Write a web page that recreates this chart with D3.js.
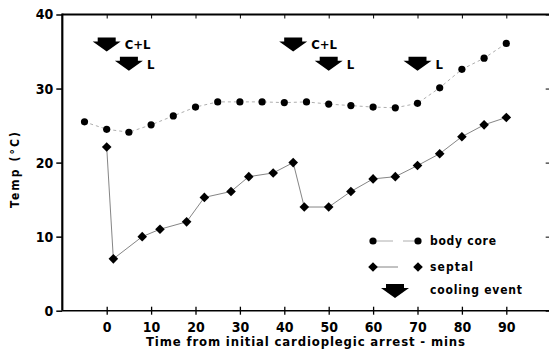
<!DOCTYPE html>
<html>
<head>
<meta charset="utf-8">
<script src="https://cdn.jsdelivr.net/npm/d3@7"></script>
<style>
	body { margin: 0; background: white; }
	svg { display: block; }
	text { font-family: 'DejaVu Sans Condensed', 'Liberation Sans Narrow', sans-serif; font-weight: bold; fill: black; }
</style>
</head>
<body>
<div id="app"></div>
<script>
// body core temperatures
const coreTime = [-5, 0, 5, 10, 15, 20, 25, 30, 35, 40, 45, 50, 55, 60, 65, 70, 75, 80, 85, 90]
const coreTemp = [25.5, 24.5, 24.1, 25.1, 26.3, 27.5, 28.2, 28.2, 28.2, 28.1, 28.2, 27.9, 27.7, 27.5, 27.4, 28.0, 30.1, 32.6, 34.1, 36.1]

// septal temperatures
const septalTime = [0, 1.5, 8, 12, 18, 22, 28, 32, 37.5, 42, 44.5, 50, 55, 60, 65, 70, 75, 80, 85, 90]
const septalTemp = [22.1, 7.0, 10.0, 11.0, 12.0, 15.3, 16.1, 18.1, 18.6, 20.0, 14.0, 14.0, 16.1, 17.8, 18.1, 19.6, 21.2, 23.5, 25.1, 26.1]

// cooling events (arrow top given in temp units)
const eventTime = [0, 5, 42, 50, 70]
const eventTemp = [36.9, 34.3, 36.9, 34.3, 34.3]
const eventLabel = ['C+L', 'L', 'C+L', 'L', 'L']

const xTicks = [0, 10, 20, 30, 40, 50, 60, 70, 80, 90]
const yTicks = [0, 10, 20, 30, 40]

const width = 549
const height = 353

const svg = d3.select('#app').append('svg').attr('width', width).attr('height', height)

let x = d3.scaleLinear().domain([-10, 100]).range([62.3, 550.7])
let y = d3.scaleLinear().domain([0, 40]).range([310.7, 14.5])

// frame lines
svg.append('line').attr('x1', x(-10)).attr('x2', x(100)).attr('y1', y(40)).attr('y2', y(40))
	.style('stroke', 'black').style('stroke-width', 2)
svg.append('line').attr('x1', x(-10)).attr('x2', x(-10)).attr('y1', y(40) - 1).attr('y2', y(0))
	.style('stroke', 'black').style('stroke-width', 2.2)
svg.append('line').attr('x1', x(-10)).attr('x2', x(100)).attr('y1', y(0)).attr('y2', y(0))
	.style('stroke', 'black').style('stroke-width', 1.5)

// bottom axis, ticks crossing the line
let xAxis = d3.axisBottom(x).tickValues(xTicks).tickSizeInner(4).tickSizeOuter(0).tickPadding(6)
let gx = svg.append('g').attr('transform', `translate(0, ${y(0)})`).call(xAxis)
gx.select('.domain').remove()
gx.selectAll('.tick line').attr('y1', -4).style('stroke-width', 1.3)
gx.selectAll('.tick text').style('font-size', '14px').attr('dy', '0.8em')

// top axis ticks
svg.append('g')
	.attr('transform', `translate(0, ${y(40)})`)
	.call(d3.axisTop(x).tickValues(xTicks).tickSizeInner(-4).tickSizeOuter(0).tickFormat(''))
	.call((g) => g.select('.domain').remove())
	.selectAll('.tick line').style('stroke-width', 1)

// left axis
let yAxis = d3.axisLeft(y).tickValues(yTicks).tickSizeInner(6).tickSizeOuter(0).tickPadding(3)
let gy = svg.append('g').attr('transform', `translate(${x(-10)}, 0)`).call(yAxis)
gy.select('.domain').remove()
gy.selectAll('.tick line').style('stroke-width', 1.5)
gy.selectAll('.tick text').style('font-size', '14px')

// right axis ticks (inner)
svg.append('g')
	.attr('transform', `translate(${x(100)}, 0)`)
	.call(d3.axisRight(y).tickValues(yTicks).tickSizeInner(-5).tickSizeOuter(0).tickFormat(''))
	.call((g) => g.select('.domain').remove())
	.selectAll('.tick line').style('stroke-width', 1)

// axis titles
svg.append('text')
	.attr('x', 146).attr('y', 346)
	.attr('textLength', 319).attr('lengthAdjust', 'spacing')
	.style('font-size', '13px')
	.text('Time from initial cardioplegic arrest - mins')

svg.append('text')
	.attr('transform', 'translate(19, 208) rotate(-90)')
	.attr('textLength', 76).attr('lengthAdjust', 'spacing')
	.style('font-size', '12px')
	.text('Temp (°C)')

// connecting lines
let line = d3.line().x((d) => x(d[0])).y((d) => y(d[1]))

svg.append('path')
	.attr('d', line(d3.zip(coreTime, coreTemp)))
	.style('fill', 'none').style('stroke', '#999').style('stroke-width', 0.8)
	.style('stroke-dasharray', '3,3')

svg.append('path')
	.attr('d', line(d3.zip(septalTime, septalTemp)))
	.style('fill', 'none').style('stroke', '#666').style('stroke-width', 0.8)

// markers
const diamond = (cx, cy, r) => `M${cx},${cy - r}L${cx + r},${cy}L${cx},${cy + r}L${cx - r},${cy}Z`

svg.selectAll('circle.core')
	.data(d3.zip(coreTime, coreTemp))
	.enter()
	.append('circle')
	.attr('class', 'core')
	.attr('cx', (d) => x(d[0]))
	.attr('cy', (d) => y(d[1]))
	.attr('r', 3.6)
	.style('fill', 'black')

svg.selectAll('path.septal')
	.data(d3.zip(septalTime, septalTemp))
	.enter()
	.append('path')
	.attr('class', 'septal')
	.attr('d', (d) => diamond(x(d[0]), y(d[1]), 4.8))
	.style('fill', 'black')

// block arrow pointing down, top at (cx, top)
const arrow = (cx, top) =>
	`M${cx - 9},${top}L${cx + 9},${top}L${cx + 9},${top + 4}L${cx + 14},${top + 4}` +
	`L${cx},${top + 14}L${cx - 14},${top + 4}L${cx - 9},${top + 4}Z`

let events = svg.selectAll('g.event')
	.data(eventTime.map((t, i) => ({ t: t, v: eventTemp[i], label: eventLabel[i] })))
	.enter()
	.append('g')
	.attr('class', 'event')

events.append('path')
	.attr('d', (d) => arrow(x(d.t), y(d.v)))
	.style('fill', 'black')

events.append('text')
	.attr('x', (d) => x(d.t) + 18)
	.attr('y', (d) => y(d.v) + 12)
	.style('font-size', '13px')
	.text((d) => d.label)

// legend
let legend = svg.append('g')

legend.append('line').attr('x1', 373).attr('x2', 418).attr('y1', 241).attr('y2', 241)
	.style('stroke', '#999').style('stroke-width', 0.8).style('stroke-dasharray', '20,10,15')
legend.append('circle').attr('cx', 373).attr('cy', 241).attr('r', 3.6)
legend.append('circle').attr('cx', 418).attr('cy', 241).attr('r', 3.6)
legend.append('text').attr('x', 430).attr('y', 245).style('font-size', '12px')
	.attr('textLength', 66).attr('lengthAdjust', 'spacing').text('body core')

legend.append('line').attr('x1', 373).attr('x2', 418).attr('y1', 267).attr('y2', 267)
	.style('stroke', '#666').style('stroke-width', 0.8).style('stroke-dasharray', '25,20')
legend.append('path').attr('d', diamond(373, 267, 4.8))
legend.append('path').attr('d', diamond(418, 267, 4.8))
legend.append('text').attr('x', 430).attr('y', 271).style('font-size', '12px')
	.attr('textLength', 43).attr('lengthAdjust', 'spacing').text('septal')

legend.append('path').attr('d', arrow(395, 284))
legend.append('text').attr('x', 430).attr('y', 294).style('font-size', '12px')
	.attr('textLength', 92).attr('lengthAdjust', 'spacing').text('cooling event')
</script>
</body>
</html>
